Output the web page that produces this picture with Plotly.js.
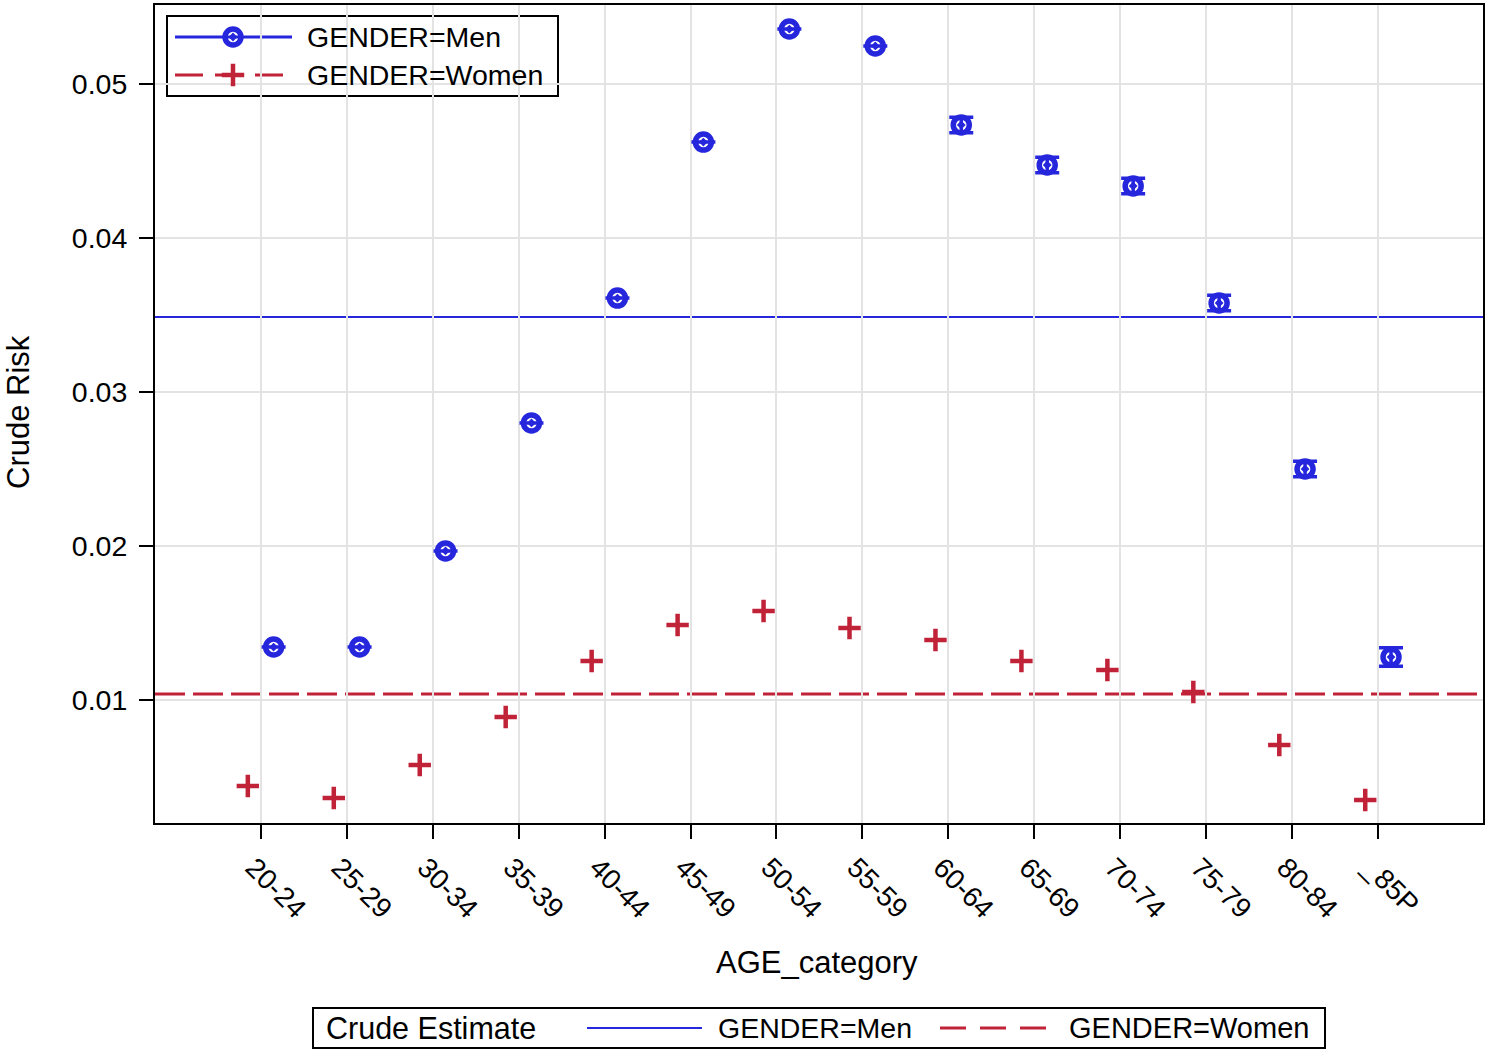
<!DOCTYPE html>
<html>
<head>
<meta charset="utf-8">
<script src="https://cdn.plot.ly/plotly-3.0.1.min.js"></script>
<style>html,body{margin:0;padding:0;background:#fff;}#chart{width:1485px;height:1051px;}</style>
</head>
<body>
<div id="chart"></div>
<script>
// ---- data ----
const ageCategories = ["20-24","25-29","30-34","35-39","40-44","45-49","50-54","55-59","60-64","65-69","70-74","75-79","80-84","_85P"];
const menRisk   = [0.01344,0.01344,0.01968,0.02799,0.03610,0.04623,0.05357,0.05247,0.04734,0.04474,0.04338,0.03578,0.02500,0.01279];
const menErr    = [null,null,null,null,null,null,null,null,0.0005,0.0005,0.0005,0.0005,0.0005,0.0006];
const womenRisk = [0.00442,0.00364,0.00578,0.00890,0.01253,0.01487,0.01578,0.01468,0.01390,0.01253,0.01195,0.01052,0.00708,0.00351];
const crudeMen   = 0.03487;
const crudeWomen = 0.01039;
const yTicks = [0.01,0.02,0.03,0.04,0.05];

// ---- style ----
const BLUE = "#2626dd";
const RED = "#c02238";
const FONT = "Liberation Sans, Arial, sans-serif";
const W = 1485, H = 1051;
const L = 155, R = 1483, T = 5, B = 823;
const px = x => (x - L) / (R - L);
const py = y => (B - y) / (B - T);
const offset = 0.15;

const idx = ageCategories.map((_, i) => i);

const menMarker = {symbol: "circle-open-dot", size: 16, color: BLUE, line: {color: BLUE, width: 5.5}};
const womenMarker = {symbol: "cross-thin-open", size: 16, color: RED, line: {color: RED, width: 4.5}};

const traces = [
  {
    type: "scatter", mode: "markers", name: "GENDER=Men",
    x: idx.map(i => i + offset), y: menRisk,
    marker: menMarker,
    error_y: {type: "data", array: menErr, visible: true, color: BLUE, thickness: 3.5, width: 12},
    showlegend: false, cliponaxis: false
  },
  {
    type: "scatter", mode: "markers", name: "GENDER=Women",
    x: idx.map(i => i - offset), y: womenRisk,
    marker: womenMarker,
    showlegend: false, cliponaxis: false
  },
  // legend glyph markers (overlay axes in paper-like units)
  {
    type: "scatter", mode: "markers", xaxis: "x2", yaxis: "y2",
    x: [px(233)], y: [py(37)], marker: menMarker,
    showlegend: false, hoverinfo: "skip", cliponaxis: false
  },
  {
    type: "scatter", mode: "markers", xaxis: "x2", yaxis: "y2",
    x: [px(233)], y: [py(75)], marker: womenMarker,
    showlegend: false, hoverinfo: "skip", cliponaxis: false
  }
];

const shapes = [
  // crude reference lines
  {type: "line", xref: "paper", x0: 0, x1: 1, yref: "y", y0: crudeMen, y1: crudeMen,
   line: {color: BLUE, width: 2}, layer: "between"},
  {type: "line", xref: "paper", x0: 0, x1: 1, yref: "y", y0: crudeWomen, y1: crudeWomen,
   line: {color: RED, width: 3, dash: "30px,8px"}, layer: "between"},
  // top legend box
  {type: "rect", xref: "paper", yref: "paper", x0: px(167), x1: px(558), y0: py(96), y1: py(16),
   line: {color: "#000", width: 2}, fillcolor: "#fff", layer: "between"},
  {type: "line", xref: "paper", yref: "paper", x0: px(175), x1: px(292), y0: py(37), y1: py(37),
   line: {color: BLUE, width: 3}, layer: "between"},
  {type: "line", xref: "paper", yref: "paper", x0: px(175), x1: px(292), y0: py(75), y1: py(75),
   line: {color: RED, width: 3, dash: "28px,12px"}, layer: "between"},
  // bottom legend box
  {type: "rect", xref: "paper", yref: "paper", x0: px(313), x1: px(1325), y0: py(1048), y1: py(1008),
   line: {color: "#000", width: 2}, fillcolor: "#fff"},
  {type: "line", xref: "paper", yref: "paper", x0: px(587), x1: px(702), y0: py(1028), y1: py(1028),
   line: {color: BLUE, width: 2}},
  {type: "line", xref: "paper", yref: "paper", x0: px(940), x1: px(1046), y0: py(1028), y1: py(1028),
   line: {color: RED, width: 3, dash: "26px,14px"}}
];

const txt = (t, x, y, size, extra) => Object.assign({
  text: t, xref: "paper", yref: "paper", x: px(x), y: py(y), showarrow: false,
  xanchor: "left", yanchor: "middle", font: {family: FONT, size: size, color: "#000"}
}, extra || {});

const annotations = [
  txt("GENDER=Men", 305, 37, 28.5),
  txt("GENDER=Women", 305, 75, 28.5),
  txt("Crude Estimate", 324, 1028, 30.5),
  txt("GENDER=Men", 716, 1028, 28.5),
  txt("GENDER=Women", 1067, 1028, 29),
  txt("AGE_category", 817, 962, 31, {xanchor: "center"}),
  txt("Crude Risk", 18, 412, 31, {xanchor: "center", textangle: -90})
];

const layout = {
  width: W, height: H,
  margin: {l: L, r: W - R, t: T, b: H - B, pad: 0},
  paper_bgcolor: "#fff", plot_bgcolor: "#fff",
  font: {family: FONT, size: 28, color: "#000"},
  xaxis: {
    range: [-1.23, 14.22], tickmode: "array", tickvals: idx, ticktext: ageCategories,
    tickangle: 45, ticks: "outside", ticklen: 14, tickwidth: 2, tickcolor: "#000",
    showgrid: true, gridcolor: "#e3e3e3", gridwidth: 2, zeroline: false,
    showline: true, linecolor: "#000", linewidth: 2, mirror: true,
    tickfont: {family: FONT, size: 28, color: "#000"}, ticklabelstandoff: 1, ticklabelshift: -7
  },
  yaxis: {
    range: [0.002013, 0.05513], tickmode: "array", tickvals: yTicks,
    ticktext: yTicks.map(v => v.toFixed(2)),
    ticks: "outside", ticklen: 14, tickwidth: 2, tickcolor: "#000",
    showgrid: true, gridcolor: "#e3e3e3", gridwidth: 2, zeroline: false,
    showline: true, linecolor: "#000", linewidth: 2, mirror: true,
    tickfont: {family: FONT, size: 28.5, color: "#000"}, ticklabelstandoff: 6
  },
  xaxis2: {overlaying: "x", range: [0, 1], visible: false, fixedrange: true, anchor: "y2"},
  yaxis2: {overlaying: "y", range: [0, 1], visible: false, fixedrange: true, anchor: "x2"},
  shapes: shapes,
  annotations: annotations,
  showlegend: false
};

Plotly.newPlot("chart", traces, layout, {displayModeBar: false, staticPlot: true});
</script>
</body>
</html>
